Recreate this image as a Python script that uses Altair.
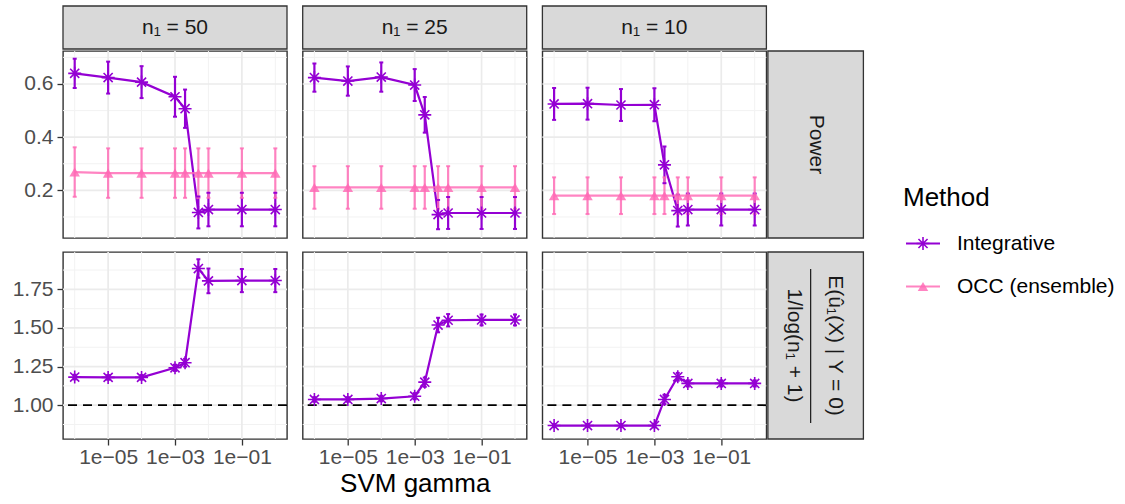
import altair as alt
import pandas as pd

# ---- data -------------------------------------------------------------
gamma = [1e-6, 1e-5, 1e-4, 1e-3, 2e-3, 5e-3, 1e-2, 1e-1, 1.0]
n1_levels = [50, 25, 10]
methods = ["Integrative", "OCC (ensemble)"]
method_colors = ["#9400D3", "#FF69B4"]

col_strips = ["n₁ = 50", "n₁ = 25", "n₁ = 10"]
row_strip_power = "Power"
row_strip_num = "E(û₁(X) | Y = 0)"
row_strip_den = "1/log(n₁ + 1)"

# power of the integrative method (mean, half-width of error bar)
power_int_50 = [0.640, 0.624, 0.607, 0.552, 0.507, 0.117, 0.128, 0.128, 0.128]
power_int_50_se = [0.055, 0.060, 0.060, 0.075, 0.072, 0.060, 0.063, 0.063, 0.063]
power_int_25 = [0.624, 0.611, 0.626, 0.596, 0.484, 0.109, 0.115, 0.115, 0.115]
power_int_25_se = [0.053, 0.055, 0.055, 0.060, 0.067, 0.055, 0.060, 0.060, 0.060]
power_int_10 = [0.525, 0.526, 0.521, 0.522, 0.296, 0.124, 0.128, 0.128, 0.128]
power_int_10_se = [0.060, 0.060, 0.060, 0.062, 0.069, 0.060, 0.060, 0.060, 0.060]

# power of the one-class ensemble
power_occ_50 = [0.269, 0.265, 0.265, 0.265, 0.265, 0.265, 0.265, 0.265, 0.265]
power_occ_50_se = [0.093] * 9
power_occ_25 = [0.211, 0.211, 0.211, 0.211, 0.211, 0.211, 0.211, 0.211, 0.211]
power_occ_25_se = [0.080] * 9
power_occ_10 = [0.180, 0.180, 0.180, 0.180, 0.180, 0.180, 0.180, 0.180, 0.180]
power_occ_10_se = [0.069] * 9

# normalised expected p-value under the null, integrative method
ratio_int_50 = [1.182, 1.180, 1.180, 1.242, 1.275, 1.885, 1.805, 1.807, 1.807]
ratio_int_50_se = [0.015, 0.015, 0.015, 0.020, 0.025, 0.060, 0.080, 0.075, 0.075]
ratio_int_25 = [1.037, 1.037, 1.043, 1.058, 1.149, 1.519, 1.550, 1.552, 1.552]
ratio_int_25_se = [0.015, 0.015, 0.018, 0.020, 0.030, 0.047, 0.040, 0.035, 0.035]
ratio_int_10 = [0.868, 0.868, 0.868, 0.868, 1.037, 1.184, 1.141, 1.141, 1.141]
ratio_int_10_se = [0.010, 0.010, 0.010, 0.012, 0.030, 0.025, 0.020, 0.020, 0.020]

reference_level = [1.0]

# axis breaks
x_major = [1e-5, 1e-3, 1e-1]
x_major_labels = ["1e−05", "1e−03", "1e−01"]
x_minor = [1e-6, 1e-4, 1e-2, 1.0]
power_major = [0.2, 0.4, 0.6]
power_minor = [0.1, 0.3, 0.5, 0.7]
ratio_major = [1.0, 1.25, 1.5, 1.75]
ratio_minor = [0.875, 1.125, 1.375, 1.625, 1.875]

x_domain = [10 ** -6.35, 10 ** 0.35]
power_domain = [0.021, 0.724]
ratio_domain = [0.781, 1.992]

series = [
    ("power", 50, "Integrative", power_int_50, power_int_50_se),
    ("power", 25, "Integrative", power_int_25, power_int_25_se),
    ("power", 10, "Integrative", power_int_10, power_int_10_se),
    ("power", 50, "OCC (ensemble)", power_occ_50, power_occ_50_se),
    ("power", 25, "OCC (ensemble)", power_occ_25, power_occ_25_se),
    ("power", 10, "OCC (ensemble)", power_occ_10, power_occ_10_se),
    ("ratio", 50, "Integrative", ratio_int_50, ratio_int_50_se),
    ("ratio", 25, "Integrative", ratio_int_25, ratio_int_25_se),
    ("ratio", 10, "Integrative", ratio_int_10, ratio_int_10_se),
]
rows = []
for metric, n1, method, vals, ses in series:
    for g, v, s in zip(gamma, vals, ses):
        rows.append(dict(metric=metric, n1=n1, method=method, gamma=g,
                         value=v, lo=v - s, hi=v + s))
df = pd.DataFrame(rows)

# ---- styling ----------------------------------------------------------
FONT = "Liberation Sans"
PW, PH = 224, 187
BORDER = "#333333"
STRIP_FILL = "#D9D9D9"
STAR = "M-1,0L1,0M0,-1L0,1M-0.7,-0.7L0.7,0.7M-0.7,0.7L0.7,-0.7"

label_expr = "'" + x_major_labels[-1] + "'"
for v, lab in reversed(list(zip(x_major[:-1], x_major_labels[:-1]))):
    label_expr = f"datum.value <= {v * 3} ? '{lab}' : ({label_expr})"

x_scale = alt.Scale(type="log", domain=x_domain)
color_scale = alt.Scale(domain=methods, range=method_colors)
opacity_scale = alt.Scale(domain=methods, range=[1.0, 0.82])


def make_panel(metric, n1, col, row):
    sub = df[(df.metric == metric) & (df.n1 == n1)]
    y_dom = power_domain if metric == "power" else ratio_domain
    y_maj = power_major if metric == "power" else ratio_major
    y_min = power_minor if metric == "power" else ratio_minor
    y_fmt = ".1f" if metric == "power" else ".2f"
    y_scale = alt.Scale(domain=y_dom, zero=False, nice=False)

    xkw = dict(scale=x_scale)
    if row == 1:
        xkw["axis"] = alt.Axis(values=x_major, labelExpr=label_expr, tickCount=3)
        xkw["title"] = "SVM gamma" if col == 1 else ""
    else:
        xkw["axis"] = None
    ykw = dict(scale=y_scale, title="")
    if col == 0:
        ykw["axis"] = alt.Axis(values=y_maj, format=y_fmt, labelPadding=4)
    else:
        ykw["axis"] = None

    def X(f):
        return alt.X(f, **xkw)

    def Y(f):
        return alt.Y(f, **ykw)

    layers = []
    # grid
    layers.append(alt.Chart(pd.DataFrame({"v": x_minor})).mark_rule(
        color="#F2F2F2", strokeWidth=1).encode(x=X("v:Q")))
    layers.append(alt.Chart(pd.DataFrame({"v": y_min})).mark_rule(
        color="#F2F2F2", strokeWidth=1).encode(y=Y("v:Q")))
    layers.append(alt.Chart(pd.DataFrame({"v": x_major})).mark_rule(
        color="#EBEBEB", strokeWidth=1.7).encode(x=X("v:Q")))
    layers.append(alt.Chart(pd.DataFrame({"v": y_maj})).mark_rule(
        color="#EBEBEB", strokeWidth=1.7).encode(y=Y("v:Q")))
    if metric == "ratio":
        layers.append(alt.Chart(pd.DataFrame({"v": reference_level})).mark_rule(
            color="black", strokeWidth=1.8, strokeDash=[9, 6]).encode(y=Y("v:Q")))

    base = alt.Chart(sub)
    enc_c = dict(
        color=alt.Color("method:N", scale=color_scale, legend=None),
        opacity=alt.Opacity("method:N", scale=opacity_scale, legend=None),
    )
    layers.append(base.mark_line(strokeWidth=2.2).encode(
        x=X("gamma:Q"), y=Y("value:Q"), detail="method:N", **enc_c))
    layers.append(base.mark_rule(strokeWidth=2.2).encode(
        x=X("gamma:Q"), y=Y("lo:Q"), y2="hi:Q", **enc_c))
    layers.append(base.mark_tick(size=4, thickness=2, orient="horizontal").encode(
        x=X("gamma:Q"), y=Y("lo:Q"), **enc_c))
    layers.append(base.mark_tick(size=4, thickness=2, orient="horizontal").encode(
        x=X("gamma:Q"), y=Y("hi:Q"), **enc_c))
    layers.append(base.transform_filter(alt.datum.method == methods[0]).mark_point(
        shape=STAR, filled=False, size=169, strokeWidth=1.6).encode(
        x=X("gamma:Q"), y=Y("value:Q"), **enc_c))
    layers.append(base.transform_filter(alt.datum.method == methods[1]).mark_point(
        shape="triangle-up", filled=True, size=110).encode(
        x=X("gamma:Q"), y=Y("value:Q"), **enc_c))

    # column strip on top
    if row == 0:
        sdf = pd.DataFrame({"label": [col_strips[col]]})
        layers.append(alt.Chart(sdf).mark_rect(
            fill=STRIP_FILL, stroke=BORDER, strokeWidth=1.3).encode(
            x=alt.value(0), x2=alt.value(PW), y=alt.value(-45), y2=alt.value(-2)))
        layers.append(alt.Chart(sdf).mark_text(
            font=FONT, fontSize=21, color="#1A1A1A", baseline="middle").encode(
            x=alt.value(PW / 2), y=alt.value(-23), text="label:N"))
    # row strip on the right
    if col == 2:
        sx0, sx1 = PW + 1.5, PW + 97
        sdf = pd.DataFrame({"label": [row_strip_power]})
        layers.append(alt.Chart(sdf).mark_rect(
            fill=STRIP_FILL, stroke=BORDER, strokeWidth=1.3).encode(
            x=alt.value(sx0), x2=alt.value(sx1), y=alt.value(0), y2=alt.value(PH)))
        mid = (sx0 + sx1) / 2
        if metric == "power":
            layers.append(alt.Chart(sdf).mark_text(
                font=FONT, fontSize=21, color="#1A1A1A", angle=90,
                baseline="middle").encode(
                x=alt.value(mid), y=alt.value(PH / 2), text="label:N"))
        else:
            fdf = pd.DataFrame({"num": [row_strip_num], "den": [row_strip_den]})
            layers.append(alt.Chart(fdf).mark_text(
                font=FONT, fontSize=21, color="#1A1A1A", angle=90,
                baseline="middle").encode(
                x=alt.value(mid + 19), y=alt.value(PH / 2), text="num:N"))
            layers.append(alt.Chart(fdf).mark_text(
                font=FONT, fontSize=21, color="#1A1A1A", angle=90,
                baseline="middle").encode(
                x=alt.value(mid - 22), y=alt.value(PH / 2), text="den:N"))
            layers.append(alt.Chart(fdf).mark_rule(
                color="#1A1A1A", strokeWidth=1.2).encode(
                x=alt.value(mid - 5), y=alt.value(17), y2=alt.value(171)))
    # keep the left edge of the first column identical in both rows
    if col == 0:
        layers.append(alt.Chart(pd.DataFrame({"v": [0]})).mark_rect(opacity=0).encode(
            x=alt.value(-62), x2=alt.value(-61), y=alt.value(0), y2=alt.value(1)))

    return alt.layer(*layers).properties(
        width=PW, height=PH,
        view=alt.ViewBackground(stroke=BORDER, strokeWidth=1.4, fill="white"),
    )


row_power = alt.hconcat(*[make_panel("power", n, i, 0) for i, n in enumerate(n1_levels)],
                        spacing=11.7)
row_ratio = alt.hconcat(*[make_panel("ratio", n, i, 1) for i, n in enumerate(n1_levels)],
                        spacing=11.7)
grid = alt.vconcat(row_power, row_ratio, spacing=10)

# ---- legend -----------------------------------------------------------
leg = pd.DataFrame({"method": methods})
leg_title = pd.DataFrame({"t": ["Method"]})
leg_y = alt.Y("method:N", scale=alt.Scale(type="point", domain=methods,
                                            range=[192.5, 235.5], padding=0), axis=None)
leg_enc = dict(
    color=alt.Color("method:N", scale=color_scale, legend=None),
    opacity=alt.Opacity("method:N", scale=opacity_scale, legend=None),
)
LX = -3
legend = alt.layer(
    alt.Chart(leg_title).mark_rect(opacity=0).encode(
        x=alt.value(0), x2=alt.value(1), y=alt.value(0), y2=alt.value(1)),
    alt.Chart(leg_title).mark_text(font=FONT, fontSize=26, color="black",
                                   align="left", baseline="middle").encode(
        x=alt.value(40 + LX), y=alt.value(147), text="t:N"),
    alt.Chart(leg).mark_rule(strokeWidth=2.2).encode(
        x=alt.value(43 + LX), x2=alt.value(77 + LX), y=leg_y, **leg_enc),
    alt.Chart(leg).transform_filter(alt.datum.method == methods[0]).mark_point(
        shape=STAR, filled=False, size=169, strokeWidth=1.6).encode(
        x=alt.value(60 + LX), y=leg_y, **leg_enc),
    alt.Chart(leg).transform_filter(alt.datum.method == methods[1]).mark_point(
        shape="triangle-up", filled=True, size=110).encode(
        x=alt.value(60 + LX), y=leg_y, **leg_enc),
    alt.Chart(leg).mark_text(font=FONT, fontSize=21, color="black",
                             align="left", baseline="middle").encode(
        x=alt.value(94 + LX), y=leg_y, text="method:N"),
).properties(width=1, height=1,
             view=alt.ViewBackground(stroke="transparent", fill="transparent"))

chart = alt.hconcat(grid, legend, spacing=0).properties(
    padding={"left": 0, "top": 4, "right": 0, "bottom": 0},
    background="white",
).configure_view(stroke=None).configure_axis(
    labelFont=FONT, labelFontSize=21, labelColor="#4D4D4D",
    tickColor=BORDER, tickWidth=1.3, tickSize=6, labelPadding=1,
    titleFont=FONT, titleFontSize=26, titleColor="black", titleFontWeight="normal",
    titlePadding=3, domain=False, grid=False,
)

chart.save("out.html", embed_options={"renderer": "svg", "actions": False})
